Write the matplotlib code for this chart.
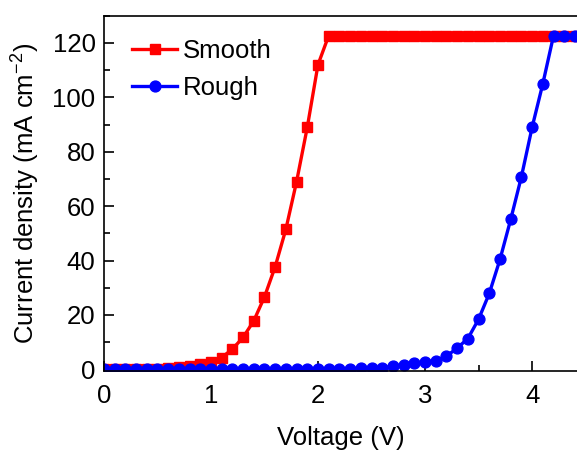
import numpy as np
import matplotlib
matplotlib.use("Agg")
import matplotlib.pyplot as plt
from matplotlib.ticker import MultipleLocator

plt.rcParams['font.family'] = ['Liberation Sans', 'DejaVu Sans']
plt.rcParams['mathtext.fontset'] = 'custom'
plt.rcParams['mathtext.rm'] = 'Liberation Sans'

voltage_smooth = [0.0, 0.1, 0.2, 0.3, 0.4, 0.5, 0.6, 0.7, 0.8, 0.9, 1.0, 1.1, 1.2, 1.3, 1.4,
                  1.5, 1.6, 1.7, 1.8, 1.9, 2.0, 2.1, 2.2, 2.3, 2.4, 2.5, 2.6, 2.7, 2.8, 2.9,
                  3.0, 3.1, 3.2, 3.3, 3.4, 3.5, 3.6, 3.7, 3.8, 3.9, 4.0, 4.1, 4.2, 4.3, 4.4]
current_smooth = [0.0, 0.0, 0.05, 0.1, 0.15, 0.25, 0.4, 0.7, 1.1, 1.8, 2.7, 4.3, 7.4, 11.7, 17.8,
                  26.6, 37.7, 51.5, 69.0, 89.0, 112.0, 122.7, 122.7, 122.7, 122.7, 122.7, 122.7, 122.7, 122.7, 122.7,
                  122.7, 122.7, 122.7, 122.7, 122.7, 122.7, 122.7, 122.7, 122.7, 122.7, 122.7, 122.7, 122.7, 122.7, 122.7]

voltage_rough = voltage_smooth
current_rough = [0.0, 0.0, 0.0, 0.0, 0.0, 0.0, 0.0, 0.0, 0.0, 0.0, 0.0, 0.0, 0.0, 0.05, 0.05,
                 0.05, 0.1, 0.1, 0.1, 0.15, 0.15, 0.2, 0.2, 0.25, 0.3, 0.4, 0.6, 1.1, 1.7, 2.2,
                 2.7, 3.2, 4.8, 7.8, 11.3, 18.4, 27.9, 40.4, 55.1, 70.8, 89.0, 105.0, 122.7, 122.7, 122.7]

fig = plt.figure(figsize=(5.77, 4.51), dpi=100)
ax = fig.add_axes([0.180, 0.177, 0.822, 0.788])

ax.plot(voltage_smooth, current_smooth, color='#ff0000', marker='s', markersize=7,
        linewidth=2.4, label='Smooth')
ax.plot(voltage_rough, current_rough, color='#0000ff', marker='o', markersize=7.8,
        linewidth=2.4, label='Rough')

ax.set_xlim(0, 4.43)
ax.set_ylim(-0.7, 130)
ax.xaxis.set_major_locator(MultipleLocator(1))
ax.xaxis.set_minor_locator(MultipleLocator(0.5))
ax.yaxis.set_major_locator(MultipleLocator(20))
ax.yaxis.set_minor_locator(MultipleLocator(10))
ax.tick_params(which='both', direction='in', labelsize=18.5, width=1.2)
ax.tick_params(which='major', length=7)
ax.tick_params(which='minor', length=4)
ax.tick_params(axis='x', which='major', pad=9)
ax.tick_params(axis='y', which='major', pad=6)
for s in ax.spines.values():
    s.set_linewidth(1.2)

ax.set_xlabel('Voltage (V)', fontsize=18.5, labelpad=13)
ax.set_ylabel('Current density (mA cm$^{-2}$)', fontsize=18.5, labelpad=8)

leg = ax.legend(loc='upper left', fontsize=18.5, frameon=False, handlelength=1.75,
                handletextpad=0.2, borderaxespad=0.3, labelspacing=0.5,
                bbox_to_anchor=(0.022, 0.985))

fig.savefig('out.png', dpi=100)
